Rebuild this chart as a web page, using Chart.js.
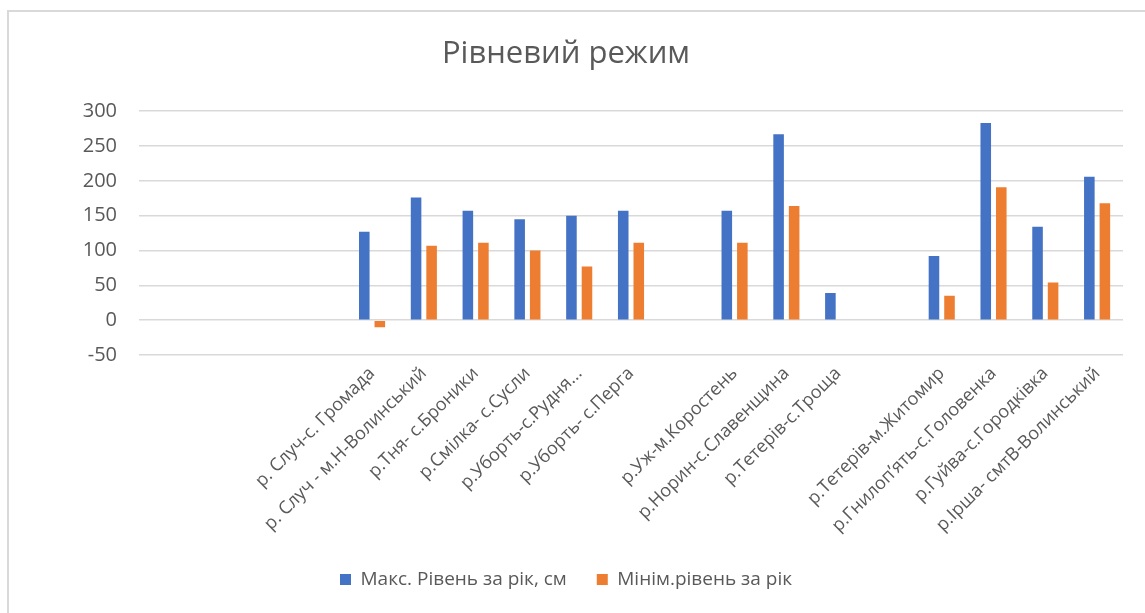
<!DOCTYPE html>
<html>
<head>
<meta charset="utf-8">
<script src="https://cdn.jsdelivr.net/npm/chart.js@4"></script>
<style>
    html, body { margin: 0; padding: 0; background: #fff; }
    #frame {
        position: absolute;
        left: 7px;
        top: 10px;
        width: 1138px;
        height: 603px;
        border-left: 2px solid #d9d9d9;
        border-top: 2px solid #d9d9d9;
    }
    #wrap { position: absolute; left: 0; top: 0; width: 1114px; height: 601px; }
</style>
</head>
<body>
<div id="frame"><div id="wrap"><canvas id="levelChart"></canvas></div></div>
<script>
// stations (empty strings are blank slots on the axis, as in the original)
const stations = [
    "", "", "", "",
    "р. Случ-с. Громада",
    "р. Случ - м.Н-Волинський",
    "р.Тня- с.Броники",
    "р.Смілка- с.Сусли",
    "р.Уборть-с.Рудня...",
    "р.Уборть- с.Перга",
    "",
    "р.Уж-м.Коростень",
    "р.Норин-с.Славенщина",
    "р.Тетерів-с.Троща",
    "",
    "р.Тетерів-м.Житомир",
    "р.Гнилоп’ять-с.Головенка",
    "р.Гуйва-с.Городківка",
    "р.Ірша- смтВ-Волинський"
];

const maxLevel = [null, null, null, null, 127, 176, 157, 145, 150, 157, null, 157, 267, 39, null, 92, 283, 134, 206];
const minLevel = [null, null, null, null, -10, 107, 111, 100, 77, 111, null, 111, 164, null, null, 35, 191, 54, 168];

const seriesNames = ["Макс. Рівень за рік, см", "Мінім.рівень за рік"];
const yTicks = [-50, 0, 50, 100, 150, 200, 250, 300];

const fontFamily = "'Open Sans', 'Noto Sans', sans-serif";

document.addEventListener("DOMContentLoaded", function () {
    const ctx = document.getElementById("levelChart").getContext("2d");

    new Chart(ctx, {
        type: "bar",
        data: {
            labels: stations,
            datasets: [{
                label: seriesNames[0],
                data: maxLevel,
                backgroundColor: "#4472c4",
                categoryPercentage: 0.6,
                barPercentage: 0.68
            },
            {
                label: seriesNames[1],
                data: minLevel,
                backgroundColor: "#ed7d31",
                categoryPercentage: 0.6,
                barPercentage: 0.68
            }]
        },
        options: {
            responsive: true,
            maintainAspectRatio: false,
            animation: false,
            layout: {
                padding: { left: 0, right: 0, top: 0, bottom: 14 }
            },
            plugins: {
                title: {
                    display: true,
                    text: "Рівневий режим",
                    color: "#595959",
                    font: { family: fontFamily, size: 31, weight: "normal" },
                    padding: { top: 24, bottom: 38 }
                },
                legend: {
                    position: "bottom",
                    labels: {
                        color: "#595959",
                        font: { family: fontFamily, size: 19 },
                        boxWidth: 11,
                        boxHeight: 11,
                        padding: 30
                    }
                },
                tooltip: { enabled: false }
            },
            scales: {
                x: {
                    grid: { display: false },
                    border: { display: false },
                    afterFit: function (axis) {
                        axis.height = 185;
                    },
                    ticks: {
                        color: "#595959",
                        font: { family: fontFamily, size: 18 },
                        autoSkip: false,
                        minRotation: 45,
                        maxRotation: 45,
                        padding: 0
                    }
                },
                y: {
                    min: -50,
                    max: 300,
                    afterBuildTicks: function (axis) {
                        axis.ticks = yTicks.map(v => ({ value: v }));
                    },
                    afterFit: function (axis) {
                        axis.width = 130;
                    },
                    grid: { color: "#d9d9d9", lineWidth: 1.5, drawTicks: false },
                    border: { display: false },
                    ticks: {
                        color: "#595959",
                        font: { family: fontFamily, size: 20 },
                        padding: 22
                    }
                }
            }
        }
    });
});
</script>
</body>
</html>
